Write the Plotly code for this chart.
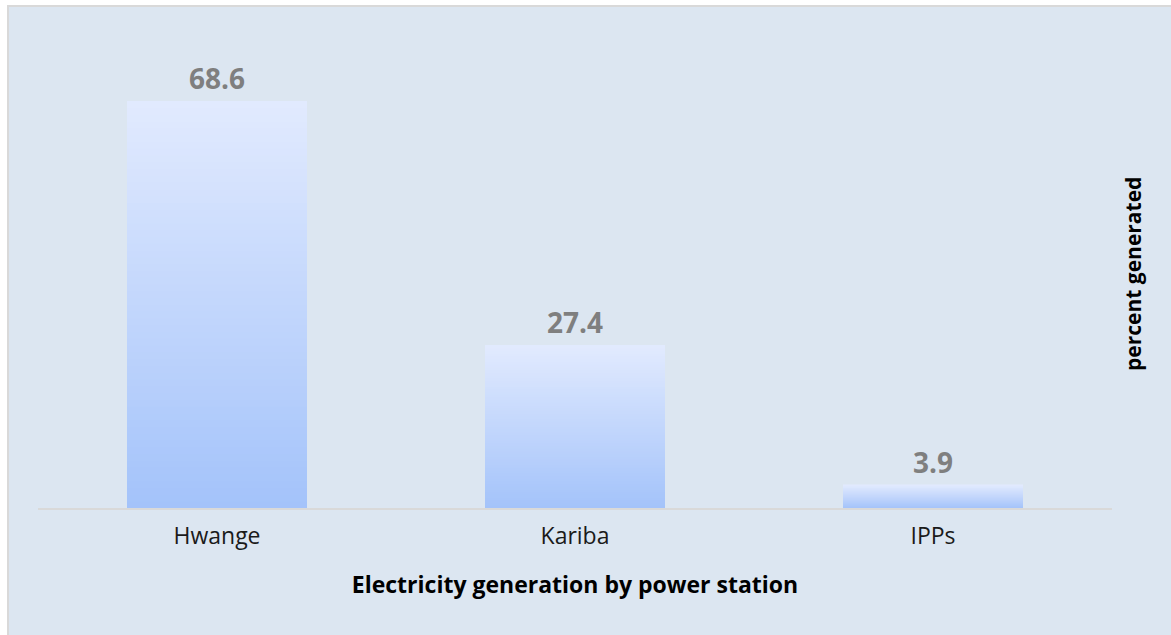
import plotly.graph_objects as go

categories = ["Hwange", "Kariba", "IPPs"]
values = [68.6, 27.4, 3.9]
labels = ["68.6", "27.4", "3.9"]

x_title = "Electricity generation by power station"
y_title = "percent generated"

W, H = 1171, 635
ML, MR, MT, MB = 38, 59, 40, 127
BOTTOM_RGB = (164, 195, 250)
TOP_RGB = (225, 234, 254)
N = 60

fig = go.Figure()
for i in range(N):
    f = i / (N - 1)
    c = tuple(round(BOTTOM_RGB[k] + (TOP_RGB[k] - BOTTOM_RGB[k]) * f) for k in range(3))
    col = "rgb(%d,%d,%d)" % c
    fig.add_trace(go.Bar(
        x=categories,
        y=[v / N for v in values],
        marker=dict(color=col, line=dict(color=col, width=0.6)),
        hoverinfo="skip",
        showlegend=False,
    ))

for cat, v, lab in zip(categories, values, labels):
    fig.add_annotation(x=cat, y=v, text="<b>%s</b>" % lab, showarrow=False,
                       yanchor="bottom", yshift=2,
                       font=dict(family="Open Sans", size=28, color="#7f7f7f"))

ph = H - MT - MB
pw = W - ML - MR
fig.add_shape(type="rect", xref="paper", yref="paper",
              x0=(8 - ML) / pw, x1=(W + 10 - ML) / pw,
              y0=-(MB + 10) / ph, y1=1 + (MT - 6) / ph,
              fillcolor="#dce6f1", line=dict(color="#d9d9d9", width=2), layer="below")

fig.add_annotation(xref="paper", yref="paper", x=(1133 - ML) / pw, y=0.5,
                   xanchor="center", yanchor="middle",
                   text="<b>%s</b>" % y_title, textangle=-90, showarrow=False,
                   font=dict(family="Open Sans", size=21, color="#000000"))

fig.update_layout(
    width=W, height=H,
    margin=dict(l=ML, r=MR, t=MT, b=MB),
    paper_bgcolor="white",
    plot_bgcolor="rgba(0,0,0,0)",
    barmode="stack",
    bargap=0.498,
    xaxis=dict(showline=True, linecolor="#d9d9d9", linewidth=2, ticks="",
               showgrid=False, zeroline=False, ticklabelstandoff=6,
               tickfont=dict(family="Open Sans", size=23, color="#1a1a1a"),
               title=dict(text="<b>%s</b>" % x_title, standoff=27,
                          font=dict(family="Open Sans", size=23, color="#000000"))),
    yaxis=dict(range=[0, (508 - MT) / (407 / 68.6)], visible=False, fixedrange=True),
)

fig.write_html("out.html", config={"displayModeBar": False},
               post_script="document.body.style.margin='0';")
